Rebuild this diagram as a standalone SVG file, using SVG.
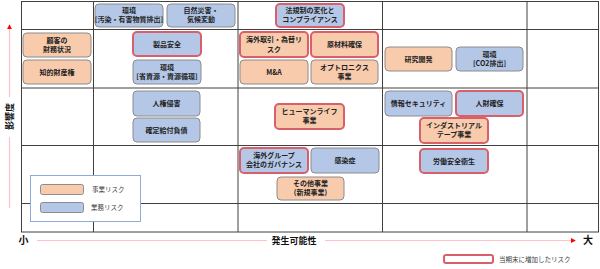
<svg xmlns="http://www.w3.org/2000/svg" width="600" height="269" viewBox="0 0 600 269">
<defs>
<style>
.o{fill:#F8CBAD;stroke:#8C8C8C;stroke-width:1}
.b{fill:#B4C7E7;stroke:#8C8C8C;stroke-width:1}
.r{stroke:#D9606A;stroke-width:2}
.t{font-family:"Noto Sans CJK JP",sans-serif;font-size:7px;font-weight:bold;fill:#222;text-anchor:middle}
.g{stroke:#404040;stroke-width:1;fill:none}
.ax{stroke:#FFC0C8;stroke-width:1.2;fill:none}
.lab{font-family:"Noto Sans CJK JP",sans-serif;font-weight:bold;fill:#111}
.lg{font-family:"Noto Sans CJK JP",sans-serif;font-size:6.5px;fill:#404040}
</style>
<marker id="ah" viewBox="0 0 6 6" refX="5" refY="3" markerWidth="5" markerHeight="5" orient="auto" markerUnits="userSpaceOnUse">
<path d="M0,0 L6,3 L0,6 z" fill="#FF0000"/>
</marker>
</defs>
<rect width="600" height="269" fill="#fff"/>
<g id="grid">
<rect class="g" x="21.5" y="1.5" width="577" height="230.5"/>
<path class="g" d="M93.5,1.5V232M238,1.5V232M382.5,1.5V232M527,1.5V232M21.5,29.5H598.5M21.5,88H598.5M21.5,145.5H598.5M21.5,203.5H598.5"/>
</g>
<g id="connectors">
<path class="ax" d="M9.5,97V25" marker-end="url(#ah)"/>
<path class="ax" d="M9.5,137V208"/>
<path class="ax" d="M37,240.5H267"/>
<path class="ax" d="M325,240.5H575" marker-end="url(#ah)"/>
</g>
<text class="lab" font-size="9" transform="translate(12.5,116.5) rotate(-90)" text-anchor="middle">影響度</text>
<text class="lab" x="23.5" y="244" font-size="10" text-anchor="middle">小</text>
<text class="lab" x="294" y="244" font-size="9" text-anchor="middle">発生可能性</text>
<text class="lab" x="588" y="244" font-size="10" text-anchor="middle">大</text>

<g id="n1"><rect class="b" x="95" y="4" width="68" height="23" rx="4"/><text class="t" x="129" y="13">環境</text><text class="t" x="129" y="22" font-size="6.5">[汚染・有害物質排出]</text></g>
<g id="n2"><rect class="b" x="167" y="4" width="68" height="23" rx="4"/><text class="t" x="201" y="13">自然災害・</text><text class="t" x="201" y="22">気候変動</text></g>
<g id="n3"><rect class="b r" x="276" y="4" width="68" height="23" rx="4"/><text class="t" x="310" y="13">法規制の変化と</text><text class="t" x="310" y="22">コンプライアンス</text></g>

<g id="n4"><rect class="o" x="23" y="33" width="68" height="24" rx="4"/><text class="t" x="57" y="42.5">顧客の</text><text class="t" x="57" y="51.5">財務状況</text></g>
<g id="n5"><rect class="o" x="23" y="60" width="68" height="24" rx="4"/><text class="t" x="57" y="74.5">知的財産権</text></g>
<g id="n6"><rect class="b r" x="133" y="32" width="68" height="24" rx="4"/><text class="t" x="167" y="46.5">製品安全</text></g>
<g id="n7"><rect class="b" x="133" y="60" width="68" height="24" rx="4"/><text class="t" x="167" y="69.5">環境</text><text class="t" x="167" y="78.5" font-size="6.5">[省資源・資源循環]</text></g>
<g id="n8"><rect class="o r" x="240" y="32" width="68" height="25" rx="4"/><text class="t" x="274" y="42">海外取引・為替リ</text><text class="t" x="274" y="51.5">スク</text></g>
<g id="n9"><rect class="o r" x="311" y="32" width="67" height="25" rx="4"/><text class="t" x="344.5" y="47">原材料確保</text></g>
<g id="n10"><rect class="o" x="240" y="60" width="68" height="24" rx="4"/><text class="t" x="274" y="74.5">M&amp;A</text></g>
<g id="n11"><rect class="o" x="311" y="60" width="67" height="24" rx="4"/><text class="t" x="344.5" y="69.5">オプトロニクス</text><text class="t" x="344.5" y="78.5">事業</text></g>
<g id="n12"><rect class="o" x="385" y="47" width="67" height="24" rx="4"/><text class="t" x="418.5" y="61.5">研究開発</text></g>
<g id="n13"><rect class="b" x="456" y="47" width="67" height="24" rx="4"/><text class="t" x="489.5" y="56.5">環境</text><text class="t" x="489.5" y="65.5">[CO2排出]</text></g>

<g id="n14"><rect class="b" x="133" y="91" width="67" height="25" rx="4"/><text class="t" x="166.5" y="106">人権侵害</text></g>
<g id="n15"><rect class="b" x="133" y="118" width="67" height="24" rx="4"/><text class="t" x="166.5" y="132.5">確定給付負債</text></g>
<g id="n16"><rect class="o r" x="275" y="104" width="69" height="25" rx="4"/><text class="t" x="309.5" y="113.5">ヒューマンライフ</text><text class="t" x="309.5" y="123">事業</text></g>
<g id="n17"><rect class="b" x="385" y="91" width="67" height="25" rx="4"/><text class="t" x="418.5" y="106">情報セキュリティ</text></g>
<g id="n18"><rect class="b r" x="456" y="91" width="67" height="25" rx="4"/><text class="t" x="489.5" y="106">人財確保</text></g>
<g id="n19"><rect class="o r" x="420" y="118" width="68" height="25" rx="4"/><text class="t" x="454" y="127.5">インダストリアル</text><text class="t" x="454" y="137">テープ事業</text></g>

<g id="n20"><rect class="b r" x="240" y="148" width="68" height="25" rx="4"/><text class="t" x="274" y="157.5">海外グループ</text><text class="t" x="274" y="167">会社のガバナンス</text></g>
<g id="n21"><rect class="b" x="311" y="148" width="68" height="25" rx="4"/><text class="t" x="345" y="163">感染症</text></g>
<g id="n22"><rect class="o" x="277" y="177" width="67" height="23" rx="4"/><text class="t" x="310.5" y="186">その他事業</text><text class="t" x="310.5" y="195">(新規事業)</text></g>
<g id="n23"><rect class="b r" x="420" y="149" width="68" height="24" rx="4"/><text class="t" x="454" y="163.5">労働安全衛生</text></g>

<g id="legend">
<rect x="30.5" y="175.5" width="110" height="46" fill="#fff" stroke="#8FAADC" stroke-width="1"/>
<rect class="o" x="40.5" y="184.5" width="43" height="10" rx="2"/>
<text class="lg" x="92" y="192">事業リスク</text>
<rect class="b" x="40.5" y="202.5" width="43" height="10" rx="2"/>
<text class="lg" x="91" y="210">業務リスク</text>
</g>
<g id="legend2">
<rect x="444" y="255" width="49" height="8" rx="2" fill="#fff" stroke="#D9606A" stroke-width="2"/>
<text class="lg" x="499" y="262" font-size="6">当期末に増加したリスク</text>
</g>
</svg>
